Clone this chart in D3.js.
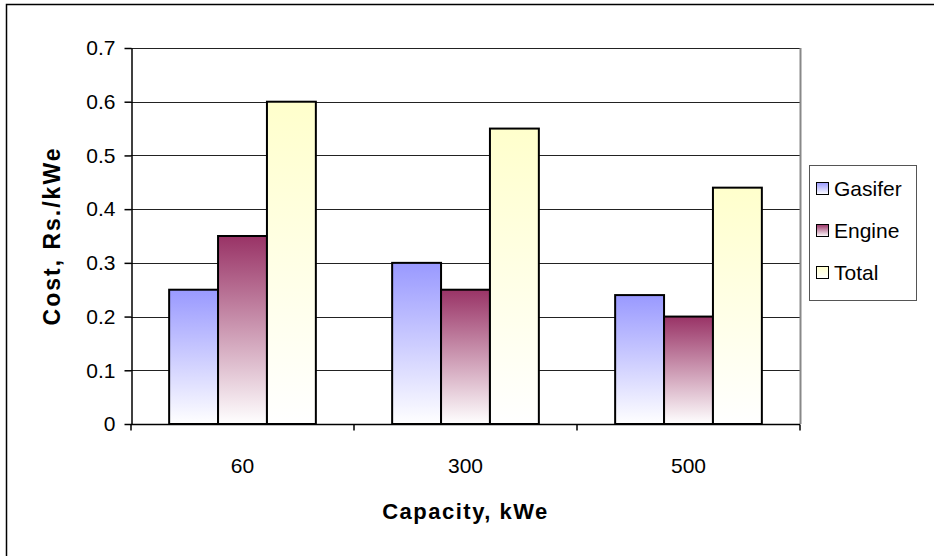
<!DOCTYPE html>
<html><head><meta charset="utf-8">
<script src="https://cdn.jsdelivr.net/npm/d3@7"></script>
<style>body{margin:0;background:#fff}svg{display:block}text{font-family:"Liberation Sans",Arial,sans-serif}</style>
</head><body><svg id="c" width="934" height="556"></svg>
<script>
const categories = ["60", "300", "500"];
const seriesNames = ["Gasifer", "Engine", "Total"];
const gasifer = [0.25, 0.30, 0.24];
const engine = [0.35, 0.25, 0.20];
const total = [0.60, 0.55, 0.44];
const yTicks = [0, 0.1, 0.2, 0.3, 0.4, 0.5, 0.6, 0.7];
const yTickLabels = ["0", "0.1", "0.2", "0.3", "0.4", "0.5", "0.6", "0.7"];
const colors = ["#9999ff", "#993366", "#ffffcc"];

const seriesValues = [gasifer, engine, total];
const svg = d3.select("#c");
const W = 934, H = 556;
const m = {l: 131, r: 800, t: 48, b: 424};

svg.append("rect").attr("x", 6.5).attr("y", 4.5).attr("width", W + 10).attr("height", H + 10)
  .attr("fill", "#fff").attr("stroke", "#000").attr("stroke-width", 1.5);

const defs = svg.append("defs");
colors.forEach((c, i) => {
  const g = defs.append("linearGradient").attr("id", "g" + i).attr("x1", 0).attr("y1", 0).attr("x2", 0).attr("y2", 1);
  g.append("stop").attr("offset", "0%").attr("stop-color", c);
  g.append("stop").attr("offset", "100%").attr("stop-color", "#fff");
});

const x0 = d3.scaleBand().domain(categories).range([m.l, m.r]).paddingInner(0).paddingOuter(0);
const x1 = d3.scaleBand().domain(seriesNames).range([0, x0.bandwidth()]).paddingInner(0).paddingOuter(0.78);
const y = d3.scaleLinear().domain([0, 0.7]).range([m.b, m.t]);

// gridlines
svg.append("g").selectAll("line").data(yTicks.slice(1)).join("line")
  .attr("x1", m.l).attr("x2", m.r).attr("y1", d => Math.round(y(d)) + 0.5).attr("y2", d => Math.round(y(d)) + 0.5)
  .attr("stroke", "#222").attr("stroke-width", 1);
// plot right border
svg.append("line").attr("x1", m.r + 0.5).attr("x2", m.r + 0.5).attr("y1", m.t).attr("y2", m.b)
  .attr("stroke", "#888").attr("stroke-width", 2);

// bars
const groups = svg.append("g").selectAll("g").data(categories).join("g")
  .attr("transform", d => `translate(${x0(d)},0)`);
groups.selectAll("rect").data((d, i) => seriesNames.map((s, j) => ({s, j, v: seriesValues[j][i]}))).join("rect")
  .attr("x", d => x1(d.s)).attr("width", x1.bandwidth())
  .attr("y", d => y(d.v)).attr("height", d => y(0) - y(d.v))
  .attr("fill", d => `url(#g${d.j})`).attr("stroke", "#000").attr("stroke-width", 2);

// y axis
const yAxis = d3.axisLeft(y).tickValues(yTicks).tickFormat((d, i) => yTickLabels[i]).tickSize(7).tickSizeOuter(0).tickPadding(9);
const ya = svg.append("g").attr("transform", `translate(${m.l + 0.5},0)`).call(yAxis);
ya.selectAll("text").attr("font-size", 21).attr("fill", "#000").attr("font-family", "Liberation Sans, Arial, sans-serif");
ya.selectAll("line,path").attr("stroke", "#000").attr("stroke-width", 1.5);

// x axis
const xa = svg.append("g").attr("transform", `translate(0,${m.b + 0.5})`);
xa.append("line").attr("x1", m.l).attr("x2", m.r).attr("stroke", "#000").attr("stroke-width", 1.5);
xa.selectAll("line.t").data(categories.concat(["end"])).join("line").attr("class", "t")
  .attr("x1", (d, i) => i < categories.length ? x0(d) : m.r).attr("x2", (d, i) => i < categories.length ? x0(d) : m.r)
  .attr("y1", 0).attr("y2", 6).attr("stroke", "#000").attr("stroke-width", 1.5);
xa.selectAll("text").data(categories).join("text")
  .attr("x", d => x0(d) + x0.bandwidth() / 2).attr("y", 48).attr("text-anchor", "middle")
  .attr("font-size", 21).text(d => d);

// axis titles
svg.append("text").attr("x", (m.l + m.r) / 2).attr("y", 519).attr("text-anchor", "middle")
  .attr("font-size", 22).attr("font-weight", "bold").attr("letter-spacing", 1.5).text("Capacity, kWe");
svg.append("text").attr("transform", `translate(60,${(m.t + m.b) / 2}) rotate(-90)`).attr("text-anchor", "middle")
  .attr("font-size", 23).attr("font-weight", "bold").attr("letter-spacing", 2).text("Cost, Rs./kWe");

// legend
const lg = svg.append("g");
lg.append("rect").attr("x", 809.5).attr("y", 165.5).attr("width", 107).attr("height", 135)
  .attr("fill", "#fff").attr("stroke", "#555").attr("stroke-width", 1);
const items = lg.selectAll("g").data(seriesNames).join("g")
  .attr("transform", (d, i) => `translate(816,${182 + i * 42})`);
items.append("rect").attr("x", 0.5).attr("y", 0.5).attr("width", 12).attr("height", 12)
  .attr("fill", (d, i) => `url(#g${i})`).attr("stroke", "#000").attr("stroke-width", 1);
items.append("text").attr("x", 18).attr("y", 14).attr("font-size", 21).text(d => d);
</script></body></html>
